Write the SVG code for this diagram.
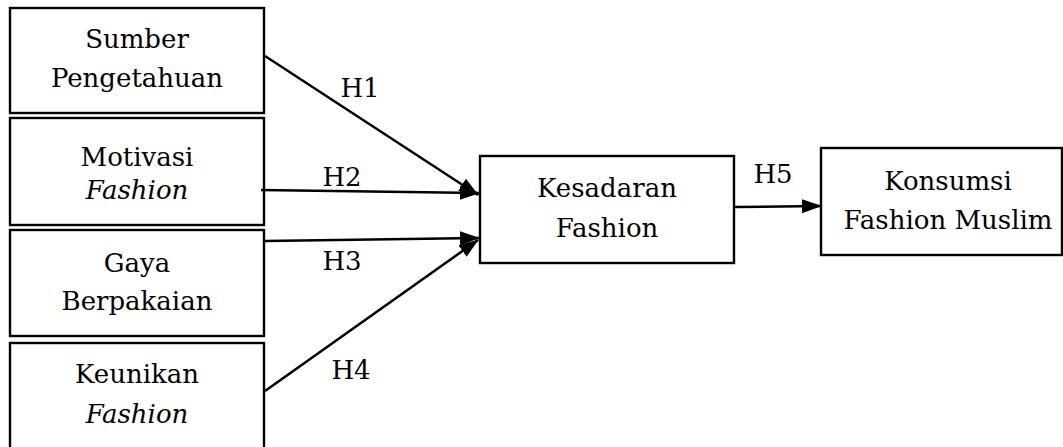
<svg xmlns="http://www.w3.org/2000/svg" width="1063" height="447" viewBox="0 0 1063 447">
  <style>
    .box { fill: #fff; stroke: #000; stroke-width: 2.4; }
    text { font-family: 'DejaVu Serif', 'Liberation Serif', serif; font-size: 26px; fill: #000; text-anchor: middle; }
    .it { font-style: italic; }
    .edge { stroke: #000; stroke-width: 2.5; fill: none; marker-end: url(#arrow); }
  </style>
  <defs>
    <marker id="arrow" viewBox="0 0 20 14" refX="19" refY="7" markerWidth="20" markerHeight="14" markerUnits="userSpaceOnUse" orient="auto">
      <path d="M0,0 L20,7 L0,14 Z" fill="#000"/>
    </marker>
  </defs>
  <rect width="1063" height="447" fill="#fff"/>

  <g id="sumber-pengetahuan">
    <rect class="box" x="10" y="8" width="254" height="105"/>
    <text x="137" y="48">Sumber</text>
    <text x="137" y="87">Pengetahuan</text>
  </g>

  <g id="motivasi-fashion">
    <rect class="box" x="10" y="118" width="254" height="107"/>
    <text x="137" y="166">Motivasi</text>
    <text class="it" x="137" y="199">Fashion</text>
  </g>

  <g id="gaya-berpakaian">
    <rect class="box" x="10" y="230" width="254" height="106"/>
    <text x="137" y="272">Gaya</text>
    <text x="137" y="310">Berpakaian</text>
  </g>

  <g id="keunikan-fashion">
    <rect class="box" x="10" y="343" width="254" height="120"/>
    <text x="137" y="383">Keunikan</text>
    <text class="it" x="137" y="423">Fashion</text>
  </g>

  <g id="kesadaran-fashion">
    <rect class="box" x="480" y="156" width="254" height="107"/>
    <text x="607" y="197">Kesadaran</text>
    <text x="607" y="237">Fashion</text>
  </g>

  <g id="konsumsi-fashion-muslim">
    <rect class="box" x="821" y="148" width="241" height="107"/>
    <text x="948" y="190">Konsumsi</text>
    <text x="948" y="229">Fashion Muslim</text>
  </g>

  <g id="connectors">
    <line class="edge" x1="265" y1="56" x2="478" y2="195"/>
    <line class="edge" x1="261" y1="190" x2="479" y2="193"/>
    <line class="edge" x1="265" y1="241" x2="479" y2="238"/>
    <line class="edge" x1="265" y1="391" x2="478" y2="240"/>
    <line class="edge" x1="735" y1="207" x2="821" y2="206"/>
    <text x="360" y="97">H1</text>
    <text x="342" y="186">H2</text>
    <text x="342" y="270">H3</text>
    <text x="351" y="379">H4</text>
    <text x="773" y="183">H5</text>
  </g>
</svg>
